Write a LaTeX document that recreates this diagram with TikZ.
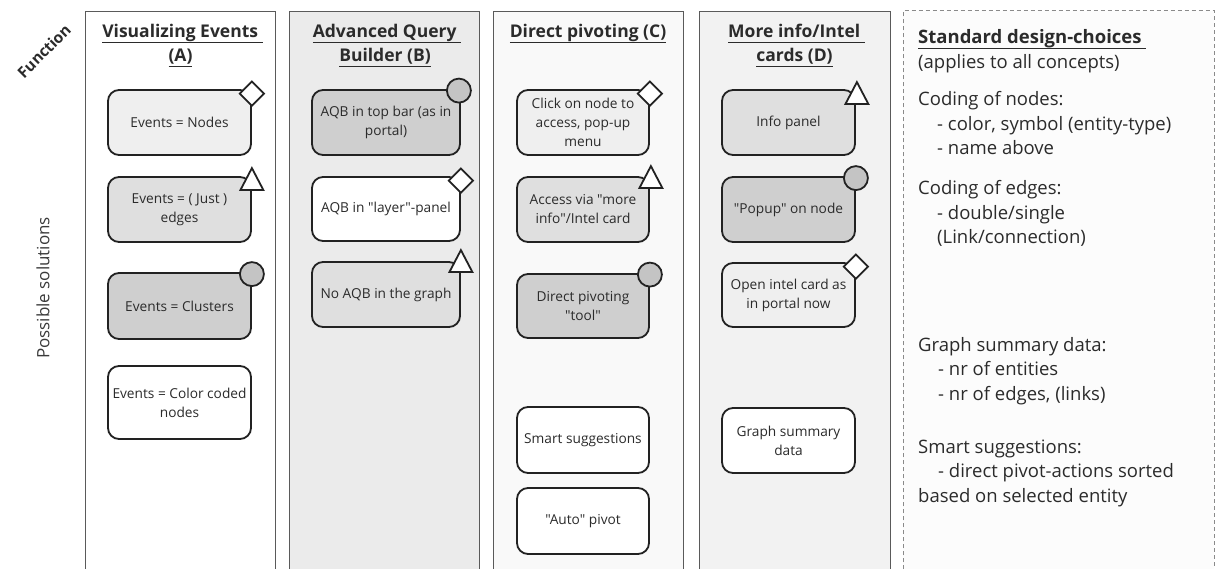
\documentclass[tikz,border=0pt]{standalone}
\usepackage{fontspec}
\setmainfont{Open Sans}
% same face without TeX input mapping, so that " stays a straight quote
\newfontfamily\boxfont{Open Sans}
\usetikzlibrary{shapes.geometric,calc}

\definecolor{ink}{HTML}{2B2B2B}
\definecolor{boxline}{HTML}{222222}
\definecolor{colline}{HTML}{5A5A5A}
\definecolor{dashline}{HTML}{8A8A8A}
\definecolor{colB}{HTML}{EBEBEB}
\definecolor{colC}{HTML}{F9F9F9}
\definecolor{colD}{HTML}{F2F2F2}
\definecolor{panelfill}{HTML}{FCFCFC}
\definecolor{fillL}{HTML}{EFEFEF}
\definecolor{fillM}{HTML}{DFDFDF}
\definecolor{fillD}{HTML}{CFCFCF}
\definecolor{fillW}{HTML}{FFFFFF}
\definecolor{markgray}{HTML}{C4C4C4}
\definecolor{labelgray}{HTML}{3A3A3A}

% underlined text with a rule below the descenders
\newcommand\ulin[1]{\setbox0\hbox{#1}\rlap{\rule[-5.5pt]{\wd0}{1.6pt}}\box0}

\tikzset{
  column/.style={draw=colline, line width=1.3pt, anchor=north west, inner sep=0pt},
  solbox/.style={draw=boxline, line width=1.8pt, rounded corners=11pt, align=center,
    text=ink, font=\boxfont\fontsize{13.7}{19}\selectfont, inner sep=2pt},
  diamark/.style={diamond, draw=boxline, line width=1.8pt, fill=white,
    minimum size=25pt, inner sep=0pt},
  circmark/.style={circle, draw=boxline, line width=1.8pt, fill=markgray,
    minimum size=24pt, inner sep=0pt},
  trimark/.style={draw=boxline, line width=1.8pt, fill=white, line join=miter},
  hdr/.style={anchor=base, inner sep=0pt, text=ink, font=\bfseries\fontsize{17.5}{24}\selectfont},
  note/.style={anchor=base west, inner sep=0pt, text=ink, font=\fontsize{18.5}{24}\selectfont},
  notehdr/.style={note, font=\bfseries\fontsize{18.5}{24}\selectfont}
}

\begin{document}
\begin{tikzpicture}[x=1pt,y=-1pt]
\useasboundingbox (0,0) rectangle (1215,569);
\clip (0,0) rectangle (1215,569);

% columns
\node[column, fill=white, minimum width=190pt, minimum height=600pt] (colA) at (85,11) {};
\node[column, fill=colB, minimum width=190pt, minimum height=600pt] (colB) at (289,11) {};
\node[column, fill=colC, minimum width=190pt, minimum height=600pt] (colC) at (493,11) {};
\node[column, fill=colD, minimum width=191pt, minimum height=600pt] (colD) at (699,11) {};
\node[anchor=north west, inner sep=0pt, fill=panelfill, minimum width=311pt, minimum height=600pt] (panel) at (903,11) {};
\draw[dashline, line width=1pt, dash pattern=on 4pt off 3pt]
  (panel.south west) -- (panel.north west) -- (panel.north east) -- (panel.south east);

% side labels
\node[rotate=45, text=ink, font=\bfseries\fontsize{15.5}{18}\selectfont] (fn) at (44,51) {Function};
\node[rotate=90, text=labelgray, font=\fontsize{17}{20}\selectfont] (ps) at (43,288) {Possible solutions};

% column headers
\node[hdr] (ha1) at (182.5,38) {\ulin{Visualizing Events\ }};
\node[hdr] (ha2) at (180.5,62) {\ulin{(A)}};
\node[hdr] (hb1) at (387,38) {\ulin{Advanced Query\ }};
\node[hdr] (hb2) at (385,62) {\ulin{Builder (B)}};
\node[hdr] (hc1) at (588,38) {\ulin{Direct pivoting (C)}};
\node[hdr] (hd1) at (796.5,38) {\ulin{More info/Intel\ }};
\node[hdr] (hd2) at (794.5,62) {\ulin{cards (D)}};

% column A
\node[solbox, fill=fillL, minimum width=143pt, minimum height=65pt] (a1) at (179.5,122.5) {Events = Nodes};
\node[solbox, fill=fillM, minimum width=143pt, minimum height=65pt] (a2) at (179.5,209.5) {Events = ( Just )\\edges};
\node[solbox, fill=fillD, minimum width=143pt, minimum height=66pt] (a3) at (179.5,306) {Events = Clusters};
\node[solbox, fill=fillW, minimum width=143pt, minimum height=73pt] (a4) at (179.5,402.5) {Events = Color coded\\nodes};
\node[diamark] (a1m) at ($(a1.north east)+(0,4.5)$) {};
\draw[trimark] ($(a2.north east)+(0,-8)$) coordinate (a2m) -- ++(11.5,22) -- ++(-23,0) -- cycle;
\node[circmark] (a3m) at ($(a3.north east)+(0,2)$) {};

% column B
\node[solbox, fill=fillD, minimum width=148pt, minimum height=65pt] (b1) at (386,122.5) {AQB in top bar (as in\\portal)};
\node[solbox, fill=fillW, minimum width=148pt, minimum height=64pt] (b2) at (386,209) {AQB in "layer"-panel};
\node[solbox, fill=fillM, minimum width=148pt, minimum height=65pt] (b3) at (386,294.5) {No AQB in the graph};
\node[circmark] (b1m) at ($(b1.north east)+(-2,1.5)$) {};
\node[diamark] (b2m) at ($(b2.north east)+(0,4.5)$) {};
\draw[trimark] ($(b3.north east)+(0,-11)$) coordinate (b3m) -- ++(11.5,22) -- ++(-23,0) -- cycle;

% column C
\node[solbox, fill=fillL, minimum width=132pt, minimum height=65pt] (c1) at (583,122.5) {Click on node to\\access, pop-up\\menu};
\node[solbox, fill=fillM, minimum width=132pt, minimum height=65pt] (c2) at (583,209.5) {Access via "more\\info"/Intel card};
\node[solbox, fill=fillD, minimum width=132pt, minimum height=64pt] (c3) at (583,306) {Direct pivoting\\"tool"};
\node[solbox, fill=fillW, minimum width=132pt, minimum height=66pt] (c4) at (583,440) {Smart suggestions};
\node[solbox, fill=fillW, minimum width=132pt, minimum height=66pt] (c5) at (583,521) {"Auto" pivot};
\node[diamark] (c1m) at ($(c1.north east)+(0,4.5)$) {};
\draw[trimark] ($(c2.north east)+(1,-10)$) coordinate (c2m) -- ++(11.5,22) -- ++(-23,0) -- cycle;
\node[circmark] (c3m) at ($(c3.north east)+(0,1.5)$) {};

% column D
\node[solbox, fill=fillM, minimum width=133pt, minimum height=65pt] (d1) at (788.5,122.5) {Info panel};
\node[solbox, fill=fillD, minimum width=133pt, minimum height=65pt] (d2) at (788.5,209.5) {"Popup" on node};
\node[solbox, fill=fillL, minimum width=133pt, minimum height=64pt] (d3) at (788.5,295) {Open intel card as\\in portal now};
\node[solbox, fill=fillW, minimum width=133pt, minimum height=65pt] (d4) at (788.5,440.5) {Graph summary\\data};
\draw[trimark] ($(d1.north east)+(1,-7)$) coordinate (d1m) -- ++(11.5,22) -- ++(-23,0) -- cycle;
\node[circmark] (d2m) at ($(d2.north east)+(0,2)$) {};
\node[diamark] (d3m) at ($(d3.north east)+(0,4.5)$) {};

% standard design-choices panel
\node[notehdr] (n1) at (918,44) {\ulin{Standard design-choices\ }};
\node[note] (n2) at (918,69) {(applies to all concepts)};
\node[note] (n3) at (918,106) {Coding of nodes:};
\node[note] (n4) at (937,130.5) {- color, symbol (entity-type)};
\node[note] (n5) at (937,155) {- name above};
\node[note] (n6) at (918,195) {Coding of edges:};
\node[note] (n7) at (937,219.5) {- double/single};
\node[note] (n8) at (937,244) {(Link/connection)};
\node[note] (n9) at (918,351) {Graph summary data:};
\node[note] (n10) at (938,375) {- nr of entities};
\node[note] (n11) at (938,400) {- nr of edges, (links)};
\node[note] (n12) at (918,453) {Smart suggestions:};
\node[note] (n13) at (938,477.5) {- direct pivot-actions sorted};
\node[note] (n14) at (918,502) {based on selected entity};
\end{tikzpicture}
\end{document}
